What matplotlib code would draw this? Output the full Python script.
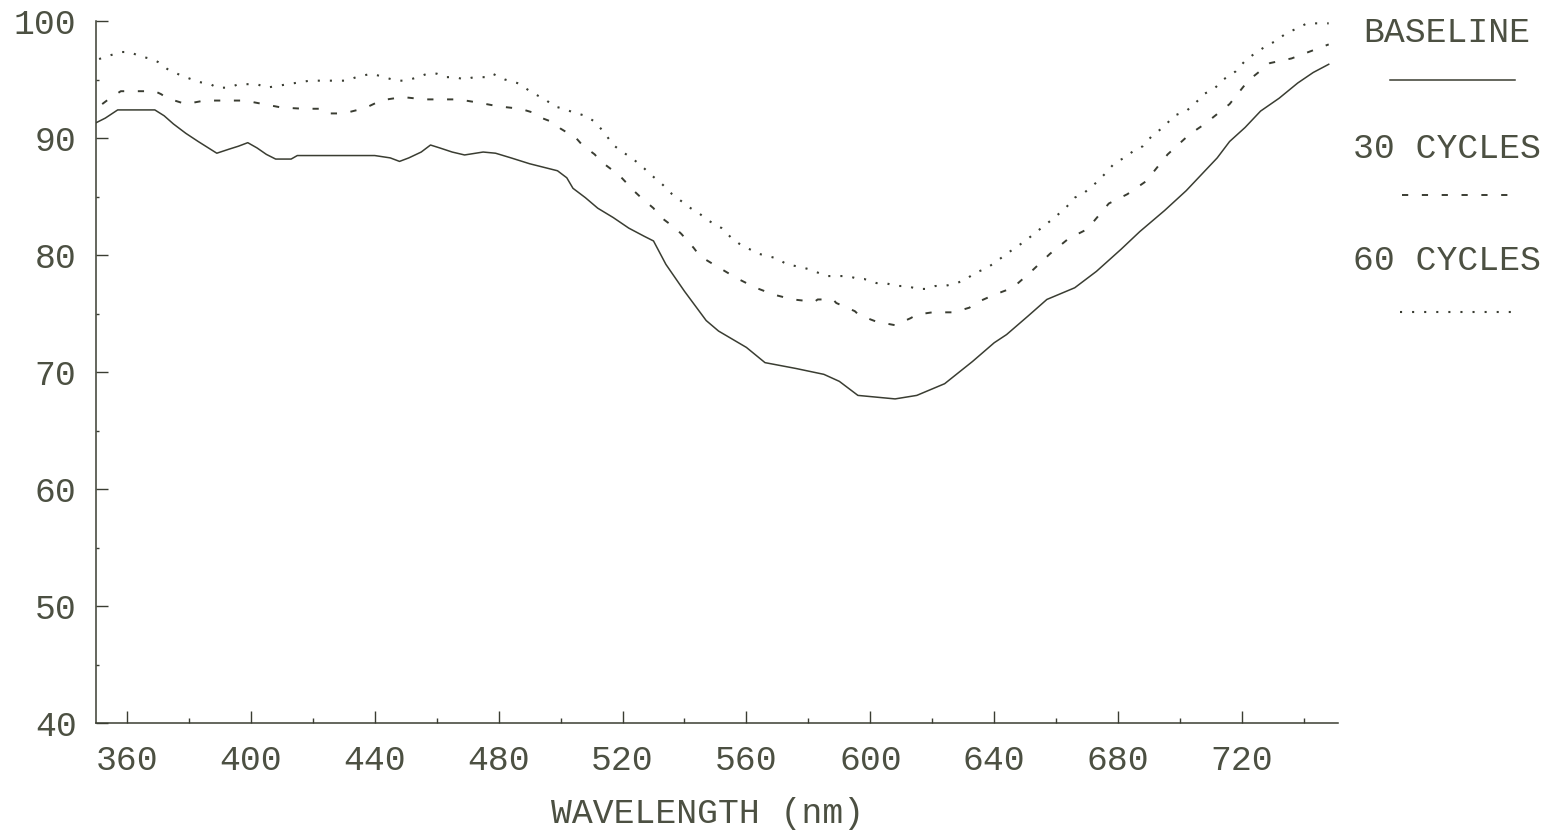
import matplotlib
matplotlib.use("Agg")
import matplotlib.pyplot as plt
from matplotlib.lines import Line2D
from matplotlib.ticker import MultipleLocator, FixedLocator

# ---- data ----
wl_baseline = [350, 353, 357, 369, 372, 375, 379, 383, 386, 389, 393, 396, 399, 402, 405, 408,
               413, 415, 440, 445, 448, 451, 455, 458, 461, 465, 469, 475, 479, 484, 490, 496,
               499, 502, 504, 508, 512, 517, 522, 527, 530, 534, 540, 547, 551, 560, 566, 576,
               585, 590, 596, 608, 615, 624, 633, 640, 644, 651, 657, 666, 673, 681, 687, 695,
               702, 707, 712, 716, 721, 726, 732, 738, 743, 748]
baseline = [91.3, 91.7, 92.4, 92.4, 91.9, 91.2, 90.4, 89.7, 89.2, 88.7, 89.05, 89.3, 89.6, 89.15,
            88.6, 88.2, 88.2, 88.5, 88.5, 88.3, 88.0, 88.3, 88.8, 89.4, 89.15, 88.8, 88.55, 88.8,
            88.7, 88.3, 87.8, 87.4, 87.2, 86.6, 85.7, 84.9, 84.0, 83.2, 82.3, 81.6, 81.2, 79.2,
            76.9, 74.4, 73.5, 72.1, 70.8, 70.3, 69.8, 69.2, 68.0, 67.7, 68.0, 69.0, 70.9, 72.5,
            73.2, 74.8, 76.2, 77.2, 78.6, 80.5, 82.0, 83.8, 85.5, 86.9, 88.3, 89.7, 90.9, 92.3,
            93.4, 94.7, 95.6, 96.3]

wl_30 = [352, 354, 358, 369, 371, 373, 379, 385, 398, 404, 410, 417, 423, 425, 430, 436, 438,
         442, 444, 449, 456, 467, 474, 480, 487, 492, 494, 498, 500, 505, 507, 511, 513, 519,
         524, 526, 530, 532, 537, 539, 543, 545, 550, 557, 563, 569, 575, 582, 583, 588, 589,
         595, 596, 600, 602, 608, 613, 615, 620, 627, 632, 634, 640, 646, 652, 658, 664, 670,
         677, 683, 689, 696, 703, 708, 716, 722, 729, 736, 742, 748]
cycles_30 = [92.9, 93.3, 94.0, 94.0, 93.75, 93.4, 92.9, 93.2, 93.2, 92.9, 92.6, 92.5, 92.5, 92.1,
             92.1, 92.5, 92.7, 93.2, 93.3, 93.5, 93.3, 93.3, 93.0, 92.7, 92.5, 92.1, 91.7, 91.3,
             90.8, 90.0, 89.4, 88.6, 88.0, 86.8, 85.4, 84.9, 84.0, 83.3, 82.3, 81.8, 80.6, 79.9,
             79.1, 78.0, 77.2, 76.6, 76.2, 76.0, 76.2, 76.2, 75.9, 75.2, 74.95, 74.5, 74.3, 74.0,
             74.6, 74.9, 75.1, 75.1, 75.5, 75.9, 76.6, 77.2, 78.6, 80.1, 81.4, 82.2, 84.4, 85.2,
             86.3, 88.6, 90.3, 91.2, 92.9, 94.9, 96.4, 96.8, 97.4, 98.0]

wl_60 = [351, 355, 358, 361, 364, 368, 370, 373, 377, 380, 383, 387, 389, 393, 396, 402, 405,
         412, 419, 431, 434, 439, 443, 447, 450, 454, 457, 460, 463, 466, 469, 472, 476, 478,
         482, 486, 489, 491, 495, 498, 501, 504, 508, 511, 514, 517, 520, 523, 527, 529, 533,
         536, 539, 542, 545, 548, 552, 555, 558, 564, 567, 570, 573, 577, 580, 583, 586, 593,
         596, 598, 602, 605, 608, 612, 615, 618, 621, 624, 628, 631, 634, 637, 640, 644, 650,
         654, 659, 663, 666, 669, 673, 676, 679, 682, 685, 688, 691, 695, 698, 702, 705, 708,
         711, 714, 718, 721, 724, 728, 731, 734, 738, 741, 748]
cycles_60 = [96.75, 97.1, 97.35, 97.35, 97.0, 96.75, 96.5, 95.9, 95.4, 95.1, 94.8, 94.6, 94.3,
             94.3, 94.6, 94.6, 94.3, 94.6, 94.9, 94.9, 95.2, 95.5, 95.2, 94.9, 94.9, 95.2, 95.5,
             95.5, 95.2, 95.2, 95.0, 95.2, 95.2, 95.5, 95.0, 94.7, 94.2, 93.85, 93.3, 92.7, 92.5,
             92.2, 91.9, 91.4, 90.5, 89.4, 88.8, 88.3, 87.4, 86.9, 86.0, 85.2, 84.6, 84.0, 83.5,
             82.9, 82.3, 81.5, 80.9, 80.1, 79.9, 79.7, 79.2, 79.0, 78.8, 78.5, 78.2, 78.2, 77.95,
             77.95, 77.6, 77.6, 77.35, 77.35, 77.1, 77.1, 77.35, 77.35, 77.6, 77.95, 78.5, 78.8,
             79.3, 80.1, 81.2, 82.05, 83.1, 84.0, 84.9, 85.3, 86.2, 87.0, 87.9, 88.3, 88.9, 89.3,
             90.2, 91.0, 91.9, 92.3, 93.0, 93.8, 94.2, 95.0, 95.7, 96.6, 97.2, 97.9, 98.3, 98.9,
             99.4, 99.8, 99.8]

x_major = [360, 400, 440, 480, 520, 560, 600, 640, 680, 720]
x_minor = [380, 420, 460, 500, 540, 580, 620, 660, 700, 740]
y_major = [40, 50, 60, 70, 80, 90, 100]
series_labels = ["BASELINE", "30 CYCLES", "60 CYCLES"]
x_label = "WAVELENGTH (nm)"

# ---- style ----
INK = "#3a3d32"
TXT = "#4c5042"
FONT = "Liberation Mono"
FS = 25

W, H = 1559, 833
fig = plt.figure(figsize=(W / 100, H / 100), dpi=100)
fig.patch.set_facecolor("white")
ax = fig.add_axes([96 / W, 1 - 723 / H, (1338 - 96) / W, (723 - 21) / H])

ax.plot(wl_baseline, baseline, color=INK, lw=1.1, linestyle="-")
ax.plot(wl_30, cycles_30, color=INK, lw=1.4, linestyle=(0, (3.2, 7.0)))
ax.plot(wl_60, cycles_60, color=INK, lw=1.5, linestyle=(0, (1, 4.8)))

ax.set_xlim(350, 751)
ax.set_ylim(40, 100)
ax.spines["top"].set_visible(False)
ax.spines["right"].set_visible(False)
for s in ("left", "bottom"):
    ax.spines[s].set_color(INK)
    ax.spines[s].set_linewidth(1.1)

ax.xaxis.set_major_locator(FixedLocator(x_major))
ax.xaxis.set_minor_locator(FixedLocator(x_minor))
ax.yaxis.set_major_locator(FixedLocator(y_major))
ax.yaxis.set_minor_locator(MultipleLocator(5))

ax.tick_params(axis="both", which="major", direction="in", color=INK, width=1.0,
               labelcolor=TXT, labelsize=FS)
ax.tick_params(axis="x", which="major", length=8.6, pad=15)
ax.tick_params(axis="x", which="minor", direction="in", length=3.6, width=1.0, color=INK)
ax.tick_params(axis="y", which="major", length=8.6, pad=14)
ax.tick_params(axis="y", which="minor", direction="in", length=2.5, width=1.0, color=INK)
for lab in ax.get_xticklabels() + ax.get_yticklabels():
    lab.set_fontfamily(FONT)

fig.text(708 / W, 1 - 813 / H, x_label, ha="center", va="center",
         fontsize=FS, family=FONT, color=TXT)

# ---- custom legend at right ----
legend_rows = [
    (series_labels[0], 32, 80, 1390, 1515, dict(linestyle="-", lw=1.1)),
    (series_labels[1], 148, 195, 1402, 1517, dict(linestyle=(0, (3.2, 7.0)), lw=1.4)),
    (series_labels[2], 260, 312, 1400, 1512, dict(linestyle=(0, (1, 4.8)), lw=1.5)),
]
for text, ty, ly, x0, x1, st in legend_rows:
    fig.text(1447 / W, 1 - ty / H, text, ha="center", va="center",
             fontsize=FS, family=FONT, color=TXT)
    fig.add_artist(Line2D([x0 / W, x1 / W], [1 - ly / H, 1 - ly / H],
                          transform=fig.transFigure, color=INK, **st))

fig.savefig("out.png", dpi=100, facecolor="white")
